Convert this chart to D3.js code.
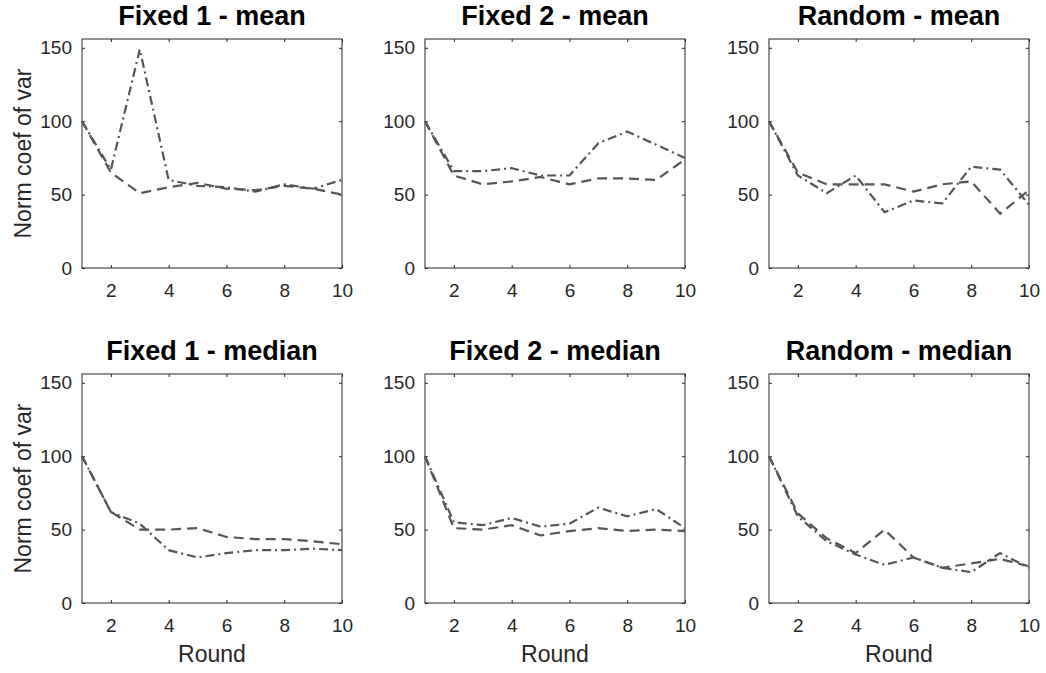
<!DOCTYPE html>
<html>
<head>
<meta charset="utf-8">
<script src="https://cdn.jsdelivr.net/npm/d3@7"></script>
<style>
  body { margin: 0; background: #fff; }
  svg text { font-family: "Liberation Sans", Arial, Helvetica, sans-serif; }
</style>
</head>
<body>
<script>
// rounds on the x axis
var rounds = [1, 2, 3, 4, 5, 6, 7, 8, 9, 10];
var xTicks = [2, 4, 6, 8, 10];
var yTicks = [0, 50, 100, 150];

var titles = ["Fixed 1 - mean", "Fixed 2 - mean", "Random - mean",
              "Fixed 1 - median", "Fixed 2 - median", "Random - median"];

// dash-dot series (one per panel)
var fixed1MeanA   = [100, 67, 149, 60, 56, 55, 52, 57, 54, 60];
var fixed2MeanA   = [100, 66, 66, 68, 63, 63, 85, 93, 84, 75];
var randomMeanA   = [100, 63, 51, 63, 38, 46, 44, 69, 67, 43];
var fixed1MedianA = [100, 62, 54, 36, 31, 34, 36, 36, 37, 36];
var fixed2MedianA = [100, 55, 53, 58, 52, 54, 65, 59, 64, 51];
var randomMedianA = [100, 59, 42, 33, 26, 31, 24, 21, 34, 24];

// dashed series (one per panel)
var fixed1MeanB   = [100, 65, 51, 55, 58, 54, 53, 56, 54, 50];
var fixed2MeanB   = [100, 63, 57, 59, 62, 57, 61, 61, 60, 74];
var randomMeanB   = [100, 65, 57, 57, 57, 52, 57, 59, 37, 53];
var fixed1MedianB = [100, 62, 50, 50, 51, 45, 43.5, 43.5, 42, 40];
var fixed2MedianB = [100, 51, 50, 53, 46, 49, 51, 49, 50, 49];
var randomMedianB = [100, 61, 44, 34, 50, 31, 24, 27, 30, 25];

var seriesA = [fixed1MeanA, fixed2MeanA, randomMeanA, fixed1MedianA, fixed2MedianA, randomMedianA];
var seriesB = [fixed1MeanB, fixed2MeanB, randomMeanB, fixed1MedianB, fixed2MedianB, randomMedianB];

var W = 1046, H = 673;
var lefts = [82, 425, 769],
    tops = [39, 374],
    pw = 260,
    ph = 229;

var axisColor = "#262626",
    lineColor = "#555555";

var svg = d3.select("body").append("svg")
    .attr("width", W)
    .attr("height", H);

titles.forEach(function(title, i) {
  var col = i % 3, row = Math.floor(i / 3);
  var g = svg.append("g")
      .attr("transform", "translate(" + lefts[col] + "," + tops[row] + ")");

  var x = d3.scaleLinear().domain([1, 10]).range([0, pw]);
  var y = d3.scaleLinear().domain([0, 156]).range([ph, 0]);

  // bottom and left axes, ticks pointing inward
  g.append("g")
      .attr("transform", "translate(0," + ph + ")")
      .call(d3.axisBottom(x).tickValues(xTicks).tickSizeInner(-3).tickSizeOuter(0).tickPadding(16));
  g.append("g")
      .call(d3.axisLeft(y).tickValues(yTicks).tickSizeInner(-3).tickSizeOuter(0).tickPadding(10));
  // top and right ticks
  g.append("g")
      .call(d3.axisTop(x).tickValues(xTicks).tickSizeInner(-3).tickSizeOuter(0).tickFormat(""));
  g.append("g")
      .attr("transform", "translate(" + pw + ",0)")
      .call(d3.axisRight(y).tickValues(yTicks).tickSizeInner(-3).tickSizeOuter(0).tickFormat(""));

  g.selectAll(".domain").remove();
  g.selectAll(".tick line").attr("stroke", axisColor);
  g.selectAll(".tick text")
      .attr("fill", axisColor)
      .style("font-size", "19px");

  // box
  g.append("rect")
      .attr("width", pw)
      .attr("height", ph)
      .attr("fill", "none")
      .attr("stroke", axisColor)
      .attr("stroke-width", 1);

  var line = d3.line()
      .x(function(d, k) { return x(rounds[k]); })
      .y(function(d) { return y(d); });

  g.append("path")
      .datum(seriesB[i])
      .attr("d", line)
      .attr("fill", "none")
      .attr("stroke", lineColor)
      .attr("stroke-width", 2.2)
      .attr("stroke-dasharray", "10,6");

  g.append("path")
      .datum(seriesA[i])
      .attr("d", line)
      .attr("fill", "none")
      .attr("stroke", lineColor)
      .attr("stroke-width", 2.2)
      .attr("stroke-dasharray", "9,4,2,4");

  // title
  g.append("text")
      .attr("x", pw / 2)
      .attr("y", -14)
      .attr("text-anchor", "middle")
      .style("font-size", "27px")
      .style("font-weight", "bold")
      .attr("fill", "#000")
      .text(title);

  if (col === 0) {
    g.append("text")
      .attr("transform", "translate(-51," + (ph / 2) + ") rotate(-90)")
      .attr("text-anchor", "middle")
      .style("font-size", "23px")
      .attr("fill", axisColor)
      .text("Norm coef of var");
  }
  if (row === 1) {
    g.append("text")
      .attr("x", pw / 2)
      .attr("y", ph + 59)
      .attr("text-anchor", "middle")
      .style("font-size", "23px")
      .attr("fill", axisColor)
      .text("Round");
  }
});
</script>
</body>
</html>
